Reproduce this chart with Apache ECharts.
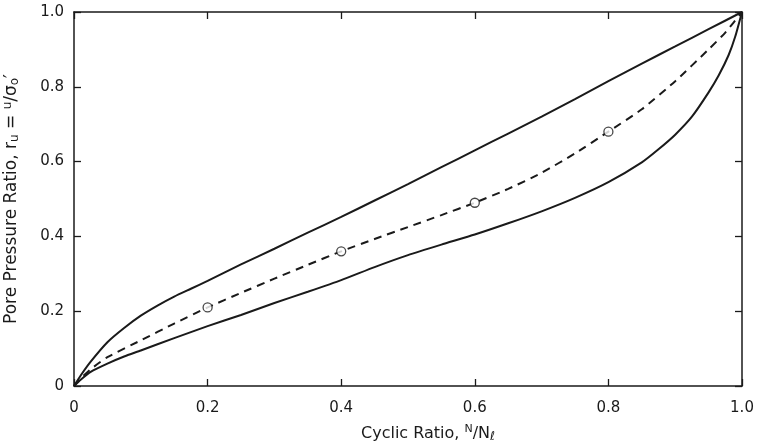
<!DOCTYPE html>
<html>
<head>
<meta charset="utf-8">
<script src="https://cdn.jsdelivr.net/npm/echarts@6/dist/echarts.min.js"></script>
<style>
  html, body { margin: 0; padding: 0; background: #fff; }
  #chart { width: 758px; height: 447px; }
</style>
</head>
<body>
<div id="chart"></div>
<script>
// Pore pressure ratio vs. cyclic ratio: upper/lower bounds and average curve
const xTicks = [0, 0.2, 0.4, 0.6, 0.8, 1.0];
const yTicks = [0, 0.2, 0.4, 0.6, 0.8, 1.0];

const upperBound = [
  [0, 0], [0.01, 0.028], [0.025, 0.065], [0.05, 0.117], [0.075, 0.155],
  [0.1, 0.188], [0.125, 0.215], [0.15, 0.239], [0.175, 0.26], [0.2, 0.281],
  [0.25, 0.325], [0.3, 0.367], [0.35, 0.41], [0.4, 0.452], [0.45, 0.496],
  [0.5, 0.54], [0.55, 0.585], [0.6, 0.63], [0.65, 0.675], [0.7, 0.72],
  [0.75, 0.767], [0.8, 0.815], [0.85, 0.862], [0.9, 0.908], [0.95, 0.954],
  [1.0, 1.0]
];
const lowerBound = [
  [0, 0], [0.01, 0.017], [0.025, 0.038], [0.05, 0.06], [0.075, 0.079],
  [0.1, 0.095], [0.15, 0.128], [0.2, 0.16], [0.25, 0.19], [0.3, 0.222],
  [0.35, 0.252], [0.4, 0.283], [0.45, 0.318], [0.5, 0.35], [0.55, 0.378],
  [0.6, 0.405], [0.65, 0.435], [0.7, 0.467], [0.75, 0.503], [0.8, 0.545],
  [0.85, 0.598], [0.875, 0.633], [0.9, 0.672], [0.925, 0.72], [0.95, 0.785],
  [0.965, 0.83], [0.98, 0.885], [0.99, 0.935], [1.0, 1.0]
];
const averageCurve = [
  [0, 0], [0.01, 0.02], [0.025, 0.045], [0.05, 0.077], [0.1, 0.122],
  [0.15, 0.167], [0.2, 0.21], [0.25, 0.249], [0.3, 0.287], [0.35, 0.324],
  [0.4, 0.36], [0.45, 0.393], [0.5, 0.425], [0.55, 0.457], [0.6, 0.49],
  [0.65, 0.527], [0.7, 0.57], [0.75, 0.622], [0.8, 0.68], [0.85, 0.74],
  [0.9, 0.815], [0.95, 0.9], [0.975, 0.945], [1.0, 1.0]
];
const testPoints = [[0.2, 0.21], [0.4, 0.36], [0.6, 0.49], [0.8, 0.68]];

const ink = '#1a1a1a';
const fontFamily = '"DejaVu Sans", "Liberation Sans", sans-serif';
const tickFmt = v => (v === 0 ? '0' : v.toFixed(1));

const baseAxis = {
  type: 'value', min: 0, max: 1, interval: 0.2,
  axisLine: { show: true, onZero: false, lineStyle: { color: ink, width: 1.5 } },
  axisTick: { show: true, inside: true, length: 7, lineStyle: { color: ink, width: 1.3 } },
  splitLine: { show: false }
};

const curveStyle = { smooth: 0.2, showSymbol: false };

const chart = echarts.init(document.getElementById('chart'), null, { renderer: 'canvas' });
chart.setOption({
  backgroundColor: '#fff',
  animation: false,
  grid: { left: 74, right: 16, top: 12, bottom: 61, containLabel: false, outerBoundsMode: 'none' },
  xAxis: [
    Object.assign({}, baseAxis, {
      position: 'bottom',
      axisLabel: { formatter: tickFmt, color: ink, fontSize: 15, fontFamily, margin: 15 },
      name: 'Cyclic Ratio, {sup|N}/N{sub|ℓ}',
      nameLocation: 'middle', nameGap: 38,
      nameTextStyle: {
        color: ink, fontSize: 16, fontFamily, padding: [0, 0, 0, 40],
        rich: {
          sup: { fontSize: 11, verticalAlign: 'top', color: ink, fontFamily, padding: [0, 0, 7, 0] },
          sub: { fontSize: 12, verticalAlign: 'bottom', color: ink, fontFamily, padding: [7, 0, 0, 0] }
        }
      }
    }),
    Object.assign({}, baseAxis, { position: 'top', axisLabel: { show: false } })
  ],
  yAxis: [
    Object.assign({}, baseAxis, {
      position: 'left',
      axisLabel: { formatter: tickFmt, color: ink, fontSize: 15, fontFamily, margin: 10 },
      name: 'Pore Pressure Ratio, r{sub|u} = {sup|u}/σ{sub|o}′',
      nameLocation: 'middle', nameGap: 53,
      nameTextStyle: {
        color: ink, fontSize: 17, fontFamily,
        rich: {
          sup: { fontSize: 12, verticalAlign: 'top', color: ink, fontFamily, padding: [0, 0, 7, 0] },
          sub: { fontSize: 12, verticalAlign: 'bottom', color: ink, fontFamily, padding: [7, 0, 0, 0] }
        }
      }
    }),
    Object.assign({}, baseAxis, { position: 'right', axisLabel: { show: false } })
  ],
  series: [
    Object.assign({ name: 'Upper bound', type: 'line', data: upperBound,
      lineStyle: { color: ink, width: 2 } }, curveStyle),
    Object.assign({ name: 'Lower bound', type: 'line', data: lowerBound,
      lineStyle: { color: ink, width: 2 } }, curveStyle),
    Object.assign({ name: 'Average', type: 'line', data: averageCurve,
      lineStyle: { color: ink, width: 2, type: [8, 6] } }, curveStyle),
    {
      name: 'Tests', type: 'scatter', data: testPoints, symbol: 'circle', symbolSize: 9,
      itemStyle: { color: '#fff', borderColor: ink, borderWidth: 1.3 }, z: 5
    }
  ]
});
</script>
</body>
</html>
